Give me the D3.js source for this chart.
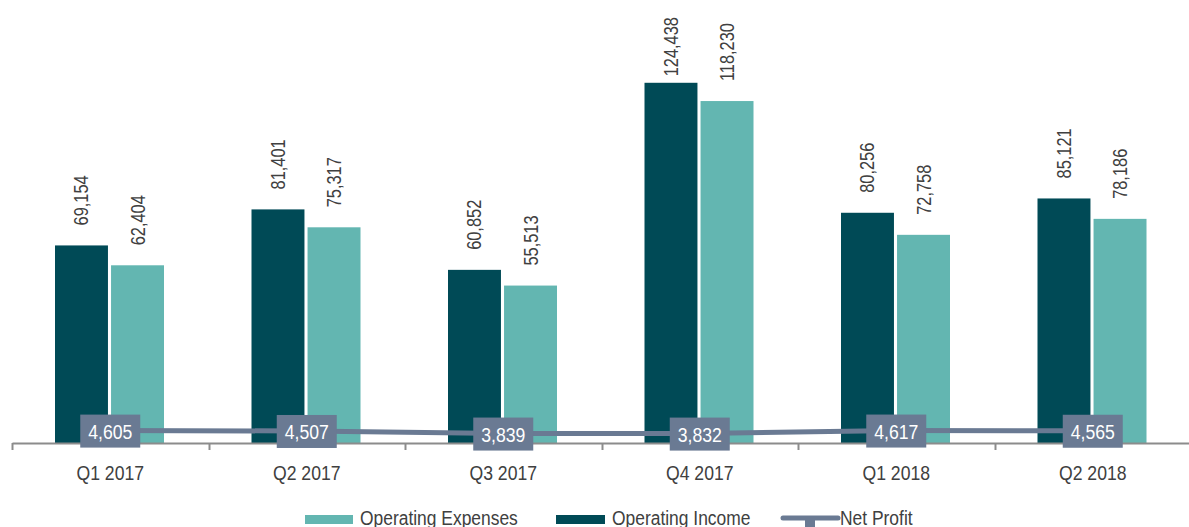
<!DOCTYPE html>
<html>
<head>
<meta charset="utf-8">
<script src="https://cdn.jsdelivr.net/npm/d3@7"></script>
<style>
  body { margin: 0; background: #fff; }
  svg text { font-family: "Liberation Sans", Arial, sans-serif; }
</style>
</head>
<body>
<div id="chart"></div>
<script>
var quarters = ["Q1 2017", "Q2 2017", "Q3 2017", "Q4 2017", "Q1 2018", "Q2 2018"];
var opIncome = [69154, 81401, 60852, 124438, 80256, 85121];
var opExpenses = [62404, 75317, 55513, 118230, 72758, 78186];
var netProfit = [4605, 4507, 3839, 3832, 4617, 4565];
var seriesNames = ["Operating Expenses", "Operating Income", "Net Profit"];

var pal = {
  dark: "#004a56",
  light: "#63b6b1",
  line: "#6a7a93",
  axis: "#8c8c8c",
  text: "#404040"
};

// no narrow font installed: squeeze Liberation Sans horizontally
var narrow = 0.82;

var width = 1189, height = 527;
var plotTop = 37, plotBottom = 443;

var svg = d3.select("#chart").append("svg")
  .attr("width", width)
  .attr("height", height);

var x = d3.scaleBand()
  .domain(quarters)
  .range([12, 1191]);

var x1 = d3.scaleBand()
  .domain(["inc", "exp"])
  .range([43, 152])
  .paddingInner(0.055);

var y = d3.scaleLinear()
  .domain([2000, 140000])
  .range([plotBottom, plotTop]);

var y2 = d3.scaleLinear()
  .domain([1400, 106300])
  .range([plotBottom, plotTop]);

var fmt = d3.format(",");

// bars
var groups = svg.selectAll("g.grp")
  .data(quarters)
  .enter().append("g")
  .attr("class", "grp")
  .attr("transform", function(d) { return "translate(" + x(d) + ",0)"; });

groups.append("rect")
  .attr("x", x1("inc"))
  .attr("width", x1.bandwidth())
  .attr("y", function(d, i) { return y(opIncome[i]); })
  .attr("height", function(d, i) { return plotBottom - y(opIncome[i]); })
  .attr("fill", pal.dark);

groups.append("rect")
  .attr("x", x1("exp"))
  .attr("width", x1.bandwidth())
  .attr("y", function(d, i) { return y(opExpenses[i]); })
  .attr("height", function(d, i) { return plotBottom - y(opExpenses[i]); })
  .attr("fill", pal.light);

// rotated value labels, kept inside the top edge like excel does
function valueLabel(sel, key, vals) {
  sel.append("text")
    .attr("font-size", "20px")
    .attr("fill", pal.text)
    .text(function(d, i) { return fmt(vals[i]); })
    .attr("transform", function(d, i) {
      var len = this.getComputedTextLength() * narrow;
      var cx = x1(key) + x1.bandwidth() / 2 + 7;
      var cy = y(vals[i]) - 20;
      if (cy - len < 17) cy = 17 + len;
      return "translate(" + cx + "," + cy + ") rotate(-90) scale(" + narrow + ",1)";
    });
}
valueLabel(groups, "inc", opIncome);
valueLabel(groups, "exp", opExpenses);

// axis
var axis = svg.append("g")
  .attr("transform", "translate(0," + plotBottom + ")")
  .call(d3.axisBottom(x).tickSize(0).tickPadding(22));
axis.select(".domain").attr("stroke", pal.axis).attr("stroke-width", 2);
axis.selectAll(".tick text")
  .attr("font-size", "21px")
  .attr("fill", pal.text)
  .attr("transform", "scale(0.84,1)")
  .style("font-family", "\"Liberation Sans\", Arial, sans-serif");

svg.append("g").selectAll("line")
  .data(quarters.concat(["end"]))
  .enter().append("line")
  .attr("x1", function(d, i) { return Math.round(12 + i * x.bandwidth()) + 0.5; })
  .attr("x2", function(d, i) { return Math.round(12 + i * x.bandwidth()) + 0.5; })
  .attr("y1", plotBottom)
  .attr("y2", plotBottom + 7)
  .attr("stroke", pal.axis)
  .attr("stroke-width", 2);

// net profit line
var line = d3.line()
  .x(function(d, i) { return x(quarters[i]) + x.bandwidth() / 2; })
  .y(function(d) { return y2(d); });

svg.append("path")
  .datum(netProfit)
  .attr("fill", "none")
  .attr("stroke", pal.line)
  .attr("stroke-width", 5)
  .attr("d", line);

var np = svg.selectAll("g.np")
  .data(netProfit)
  .enter().append("g")
  .attr("class", "np")
  .attr("transform", function(d, i) {
    return "translate(" + (x(quarters[i]) + x.bandwidth() / 2) + "," + y2(d) + ")";
  });

np.append("rect")
  .attr("x", -30)
  .attr("y", -16)
  .attr("width", 60)
  .attr("height", 33)
  .attr("fill", pal.line);

np.append("text")
  .attr("text-anchor", "middle")
  .attr("y", 8)
  .attr("font-size", "21px")
  .attr("fill", "#fff")
  .attr("transform", "scale(0.84,1)")
  .text(function(d) { return fmt(d); });

// legend
var legend = svg.append("g");
var legX = [305, 556, 783];

legend.append("rect")
  .attr("x", legX[0]).attr("y", 515).attr("width", 48).attr("height", 9)
  .attr("fill", pal.light);
legend.append("rect")
  .attr("x", legX[1]).attr("y", 515).attr("width", 49).attr("height", 9)
  .attr("fill", pal.dark);
legend.append("line")
  .attr("x1", legX[2]).attr("x2", legX[2] + 55)
  .attr("y1", 518).attr("y2", 518)
  .attr("stroke", pal.line).attr("stroke-width", 5)
  .attr("stroke-linecap", "round");
legend.append("rect")
  .attr("x", legX[2] + 22).attr("y", 516).attr("width", 10).attr("height", 14)
  .attr("fill", pal.line);

legend.selectAll("text")
  .data(seriesNames)
  .enter().append("text")
  .attr("transform", function(d, i) {
    return "translate(" + [360, 612, 840][i] + ",525) scale(0.83,1)";
  })
  .attr("font-size", "21px")
  .attr("fill", pal.text)
  .text(function(d) { return d; });
</script>
</body>
</html>
